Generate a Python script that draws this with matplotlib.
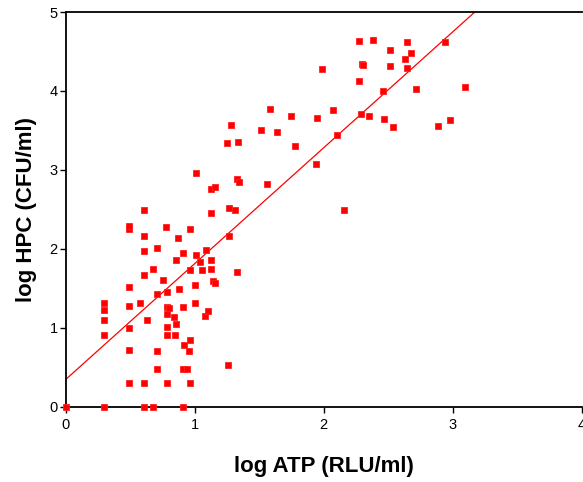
import numpy as np
import matplotlib
matplotlib.use("Agg")
import matplotlib.pyplot as plt

plt.rcParams['font.family'] = ['Liberation Sans', 'DejaVu Sans']

# log ATP (RLU/ml) vs log HPC (CFU/ml)
log_atp = [0.0, 0.30, 0.61, 0.675, 0.91,
           0.30, 0.30, 0.30, 0.30,
           0.49, 0.49, 0.49, 0.49, 0.49, 0.49, 0.49,
           0.58, 0.61, 0.61, 0.61, 0.61, 0.61, 0.633, 0.675,
           0.706, 0.706, 0.706, 0.706, 0.757, 0.775,
           0.788, 0.788, 0.788, 0.788, 0.788, 0.80, 0.788,
           0.84, 0.847, 0.858, 0.858, 0.871, 0.878,
           0.907, 0.912, 0.912, 0.92, 0.943, 0.953,
           0.964, 0.964, 0.961, 0.961,
           1.0, 1.002, 1.012, 1.01, 1.041, 1.054, 1.082, 1.085, 1.105,
           1.126, 1.126, 1.126, 1.124, 1.144, 1.157, 1.155,
           1.26, 1.248, 1.268, 1.268, 1.279, 1.31, 1.33, 1.33, 1.343, 1.338,
           1.513, 1.557, 1.585, 1.637, 1.75, 1.78, 1.94, 1.944, 1.985,
           2.068, 2.099, 2.158, 2.272, 2.272, 2.285, 2.30, 2.305, 2.347,
           2.385, 2.455, 2.468, 2.51, 2.51, 2.54, 2.633, 2.643, 2.643,
           2.672, 2.713, 2.885, 2.94, 2.978, 3.094]
log_hpc = [0.0, 0.0, 0.0, 0.0, 0.0,
           0.90, 1.10, 1.22, 1.31,
           0.30, 0.71, 1.00, 1.27, 1.52, 2.25, 2.29,
           1.31, 0.30, 1.665, 1.965, 2.155, 2.485, 1.10, 1.745,
           0.47, 0.705, 1.43, 2.015, 1.60, 2.28,
           0.30, 0.91, 1.005, 1.17, 1.26, 1.245, 1.445,
           1.13, 0.91, 1.04, 1.86, 2.13, 1.495,
           0.47, 1.26, 1.95, 0.777, 0.47, 0.705,
           0.30, 0.845, 1.73, 2.25,
           1.31, 1.54, 1.914, 2.96, 1.834, 1.73, 1.15, 1.98, 1.21,
           1.745, 1.86, 2.45, 2.756, 1.585, 1.565, 2.78,
           0.52, 3.34, 2.155, 2.515, 3.57, 2.485, 1.70, 2.887, 2.84, 3.35,
           3.51, 2.82, 3.775, 3.475, 3.68, 3.306, 3.07, 3.66, 4.28,
           3.759, 3.44, 2.485, 4.127, 4.63, 3.708, 4.34, 4.325, 3.678,
           4.65, 3.995, 3.645, 4.31, 4.515, 3.543, 4.41, 4.296, 4.617,
           4.48, 4.03, 3.556, 4.617, 3.627, 4.046]

# regression line
intercept = 0.34
slope = 1.47

fig = plt.figure(figsize=(5.83, 4.82), dpi=100)
ax = fig.add_axes([65.5/583, 75.5/482, 516.5/583, 394.5/482])

ax.plot(log_atp, log_hpc, 's', color='#ff0000', markeredgecolor='#ff2020',
        markersize=4.3, markeredgewidth=0.6, clip_on=False, zorder=3)

xl = np.array([0, 4])
ax.plot(xl, intercept + slope*xl, color='#ff0000', lw=0.9, zorder=2)

ax.set_xlim(0, 4)
ax.set_ylim(0, 5)
ax.set_xticks([0, 1, 2, 3, 4])
ax.set_yticks([0, 1, 2, 3, 4, 5])
ax.spines['right'].set_visible(False)
for s in ['left', 'bottom', 'top']:
    ax.spines[s].set_linewidth(1.3)
ax.tick_params(direction='out', length=4, width=1, labelsize=10.5, pad=1.5)
ax.tick_params(axis='x', pad=4)

ax.set_xlabel('log ATP (RLU/ml)', fontsize=16, fontweight='bold')
ax.set_ylabel('log HPC (CFU/ml)', fontsize=16, fontweight='bold')
ax.xaxis.set_label_coords(0.5, -0.125)
ax.yaxis.set_label_coords(-0.056, 0.5)

fig.savefig('out.png', dpi=100)
